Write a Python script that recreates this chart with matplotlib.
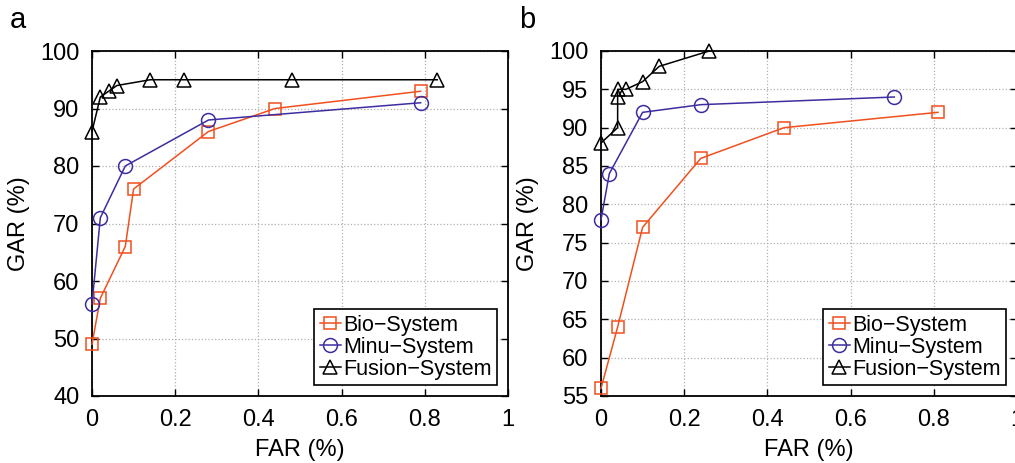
import matplotlib
matplotlib.use("Agg")
import matplotlib.pyplot as plt

plt.rcParams['font.family'] = ['Liberation Sans', 'DejaVu Sans']

# panel a
a_bio_x = [0, 0.02, 0.08, 0.10, 0.28, 0.44, 0.79]
a_bio_y = [49, 57, 66, 76, 86, 90, 93]
a_minu_x = [0, 0.02, 0.08, 0.28, 0.79]
a_minu_y = [56, 71, 80, 88, 91]
a_fus_x = [0, 0.02, 0.04, 0.06, 0.14, 0.22, 0.48, 0.83]
a_fus_y = [86, 92, 93, 94, 95, 95, 95, 95]

# panel b
b_bio_x = [0, 0.04, 0.10, 0.24, 0.44, 0.81]
b_bio_y = [56, 64, 77, 86, 90, 92]
b_minu_x = [0, 0.02, 0.10, 0.24, 0.705]
b_minu_y = [78, 84, 92, 93, 94]
b_fus_x = [0, 0.04, 0.04, 0.04, 0.06, 0.10, 0.14, 0.26]
b_fus_y = [88, 90, 94, 95, 95, 96, 98, 100]

x_ticks = [0, 0.2, 0.4, 0.6, 0.8, 1]
x_ticklabels = ['0', '0.2', '0.4', '0.6', '0.8', '1']

c_bio = '#f0501e'
c_minu = '#3c2ea0'
c_fus = 'black'

fig = plt.figure(figsize=(10.15, 4.63), dpi=100)
W, H = 1015, 463

def make_panel(left, xs, ys, ylim, yticks, letter):
    ax = fig.add_axes([left / W, 1 - 396 / H, 416 / W, 345 / H])
    ax.plot(xs[0], ys[0], '-s', color=c_bio, mfc='none', ms=8, lw=1.1,
            mew=1.1, label='Bio\u2212System', clip_on=False, zorder=3)
    ax.plot(xs[1], ys[1], '-o', color=c_minu, mfc='none', ms=10, lw=1.1,
            mew=1.1, label='Minu\u2212System', clip_on=False, zorder=3)
    ax.plot(xs[2], ys[2], '-^', color=c_fus, mfc='none', ms=10, lw=1.1,
            mew=1.1, label='Fusion\u2212System', clip_on=False, zorder=3)
    ax.set_xlim(0, 1)
    ax.set_ylim(*ylim)
    ax.set_xticks(x_ticks)
    ax.set_xticklabels(x_ticklabels)
    ax.set_yticks(yticks)
    ax.tick_params(direction='in', top=True, right=True, labelsize=17,
                   length=5, width=1, pad=9)
    ax.grid(True, linestyle=':', color='#b0b0b0', lw=0.9)
    for s in ax.spines.values():
        s.set_linewidth(1.3)
    ax.set_xlabel('FAR (%)', fontsize=17, labelpad=6)
    ax.set_ylabel('GAR (%)', fontsize=17, labelpad=7)
    leg = ax.legend(loc='lower right', fontsize=15.5, frameon=True,
                    fancybox=False, edgecolor='black', framealpha=1,
                    handlelength=1.0, handletextpad=0.1, borderpad=0.25,
                    labelspacing=0.05, borderaxespad=0.5)
    leg.get_frame().set_linewidth(1.2)
    fig.text((left - 82) / W, 1 - 20 / H, letter, fontsize=21,
             ha='left', va='center')
    return ax

make_panel(92, [a_bio_x, a_minu_x, a_fus_x], [a_bio_y, a_minu_y, a_fus_y],
           (40, 100), range(40, 101, 10), 'a')
make_panel(601, [b_bio_x, b_minu_x, b_fus_x], [b_bio_y, b_minu_y, b_fus_y],
           (55, 100), range(55, 101, 5), 'b')

fig.savefig('out.png', dpi=100)
